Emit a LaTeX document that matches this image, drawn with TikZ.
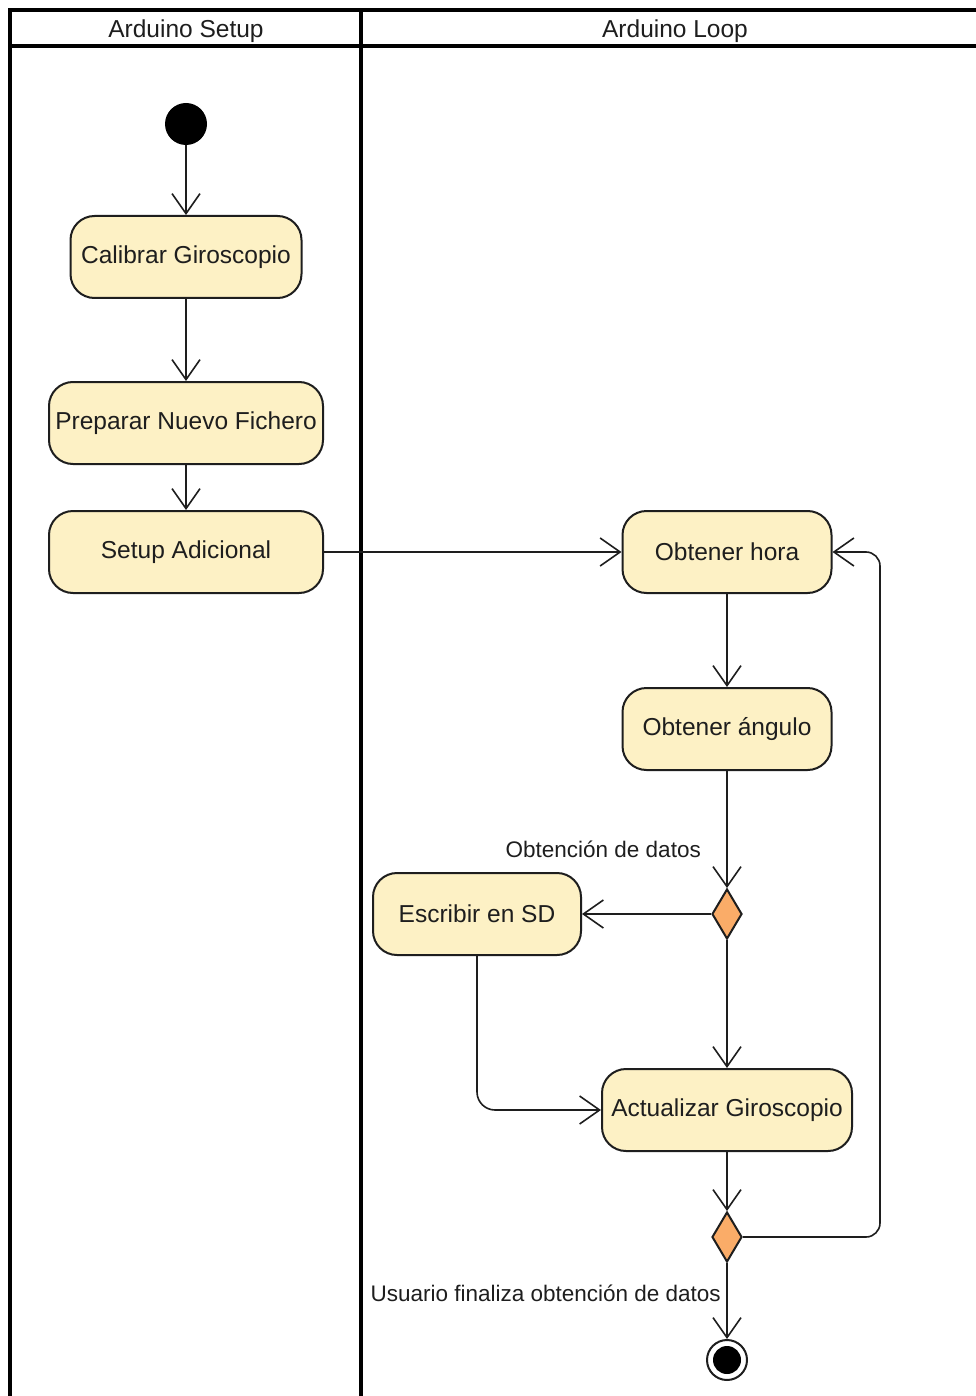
\documentclass[tikz,border=0pt]{standalone}
\usepackage{fontspec}
\setmainfont{Liberation Sans}
\usetikzlibrary{arrows.meta,shapes.geometric}
\definecolor{actfill}{RGB}{253,241,197}
\definecolor{decfill}{RGB}{250,172,104}
\definecolor{ink}{RGB}{30,30,30}
\begin{document}
\begin{tikzpicture}[x=1pt,y=-1pt,
  lane/.style={line width=3.2pt,black},
  action/.style={draw=ink,fill=actfill,line width=2pt,rounded corners=24pt,
    minimum height=82pt,inner sep=0pt,font=\fontsize{24.5}{28}\selectfont,text=ink},
  decision/.style={draw=ink,fill=decfill,line width=2pt,diamond,aspect=0.6,
    minimum width=30pt,minimum height=50pt,inner sep=0pt},
  flow/.style={draw=ink,line width=1.6pt,-{Straight Barb[length=20pt,width=28pt,line width=1.6pt]}},
  guard/.style={font=\fontsize{22.5}{26}\selectfont,text=ink,inner sep=0pt},
  head/.style={font=\fontsize{24.5}{28}\selectfont,text=ink,inner sep=0pt}]
\useasboundingbox (0,0) rectangle (976,1396);
\fill[white] (0,0) rectangle (976,1396);

% swimlane frame
\draw[lane] (10,1396) -- (10,10) -- (976,10);
\draw[lane] (10,46) -- (976,46);
\draw[lane] (361,10) -- (361,1396);
\node[head] (hsetup) at (186,31) {Arduino Setup};
\node[head] (hloop) at (675,31) {Arduino Loop};

% setup lane
\node[circle,fill=black,minimum size=42pt,inner sep=0pt] (start) at (186,124) {};
\node[action,minimum width=231pt] (calib) at (186,257) {Calibrar Giroscopio};
\node[action,minimum width=274pt] (prep) at (186,423) {Preparar Nuevo Fichero};
\node[action,minimum width=274pt] (setup) at (186,552) {Setup Adicional};

% loop lane
\node[action,minimum width=209pt] (hora) at (727,552) {Obtener hora};
\node[action,minimum width=209pt] (angulo) at (727,729) {Obtener ángulo};
\node[decision] (d1) at (727,914) {};
\node[action,minimum width=208pt] (sd) at (477,914) {Escribir en SD};
\node[action,minimum width=250pt] (act) at (727,1110) {Actualizar Giroscopio};
\node[decision] (d2) at (727,1237) {};
\node[circle,draw=ink,fill=white,line width=2pt,minimum size=40pt,inner sep=0pt] (stop) at (727,1360) {};
\node[circle,fill=black,minimum size=28pt,inner sep=0pt] (stopdot) at (727,1360) {};
\coordinate (loopdn) at (880,1237);
\coordinate (loopup) at (880,552);

% guards
\node[guard,anchor=east] (g1) at (701,849) {Obtención de datos};
\node[guard,anchor=east] (g2) at (721,1293) {Usuario finaliza obtención de datos};

% control flow
\draw[flow] (start) -- (calib);
\draw[flow] (calib) -- (prep);
\draw[flow] (prep) -- (setup);
\draw[flow] (setup) -- (hora);
\draw[flow] (hora) -- (angulo);
\draw[flow] (angulo) -- (d1.north);
\draw[flow] (d1.west) -- (sd);
\draw[flow] (d1.south) -- (act);
\draw[flow,rounded corners=18pt] (sd.south) |- (act.west);
\draw[flow] (act) -- (d2.north);
\draw[flow,rounded corners=14pt] (d2.east) -- (loopdn) -- (loopup) -- (hora.east);
\draw[flow] (d2.south) -- (stop);
\end{tikzpicture}
\end{document}
